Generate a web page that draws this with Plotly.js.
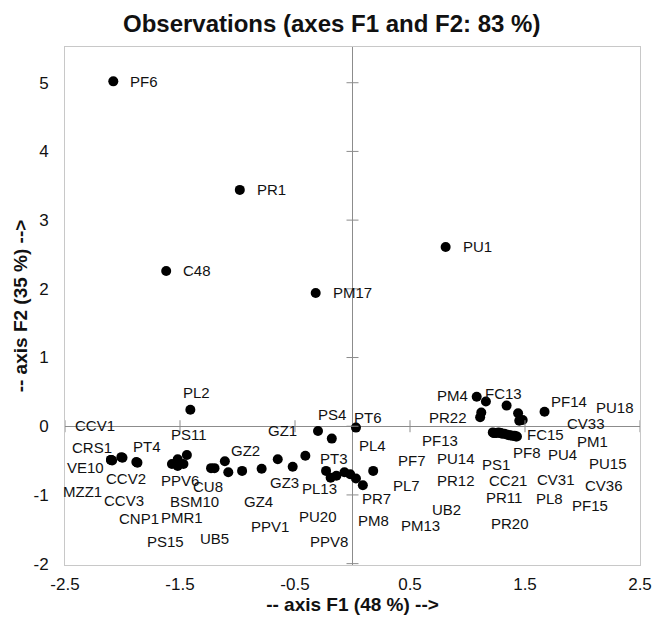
<!DOCTYPE html>
<html>
<head>
<meta charset="utf-8">
<script src="https://cdn.plot.ly/plotly-3.0.1.min.js"></script>
<style>html,body{margin:0;padding:0;background:#fff;}#chart{width:653px;height:627px;}</style>
</head>
<body>
<div id="chart"></div>
<script>
// ---- data ----
const names = ["PF6","PR1","C48","PM17","PU1","PL2",
  "CRS1","VE10","MZZ1","CCV1","CCV2","PT4","CCV3",
  "PS11","PPV6","CNP1","PMR1","PS15","CU8","BSM10",
  "GZ2","UB5","GZ4","PPV1","GZ3","PU20","GZ1","PS4","PT3","PT6","PL4",
  "PL13","PPV8","PR7","PM8","PL7","PF7","PM13",
  "PM4","FC13","PR22","PF13","PU18","PU15","CV33","PM1","PF14",
  "PU14","PR12","UB2","PS1","CC21","PR11","PR20","PF8","CV31","PL8","FC15","CV36","PF15","PU4"];
const f1 = [-2.08,-0.98,-1.62,-0.32,0.81,-1.41,
  -2.10,-2.10,-2.09,-2.01,-2.00,-1.88,-1.87,
  -1.44,-1.52,-1.57,-1.47,-1.52,-1.23,-1.20,
  -1.11,-1.08,-0.96,-0.79,-0.65,-0.52,-0.41,-0.30,-0.18,0.03,0.18,
  -0.23,-0.19,-0.14,-0.07,-0.02,0.03,0.09,
  1.08,1.16,1.12,1.11,1.34,1.44,1.45,1.48,1.67,
  1.22,1.23,1.25,1.27,1.29,1.30,1.32,1.34,1.36,1.37,1.41,1.39,1.42,1.43];
const f2 = [5.02,3.44,2.26,1.94,2.61,0.24,
  -0.49,-0.49,-0.50,-0.45,-0.46,-0.52,-0.53,
  -0.42,-0.48,-0.55,-0.55,-0.58,-0.61,-0.61,
  -0.51,-0.67,-0.65,-0.62,-0.48,-0.59,-0.43,-0.07,-0.18,-0.02,-0.65,
  -0.65,-0.75,-0.72,-0.67,-0.70,-0.76,-0.86,
  0.43,0.36,0.20,0.13,0.30,0.19,0.08,0.09,0.21,
  -0.09,-0.10,-0.10,-0.09,-0.10,-0.11,-0.11,-0.12,-0.13,-0.13,-0.14,-0.14,-0.15,-0.15];
const xTickVals = [-2.5,-1.5,-0.5,0.5,1.5,2.5];
const xTickText = ["-2.5","-1.5","-0.5","0.5","1.5","2.5"];
const yTickVals = [-2,-1,0,1,2,3,4,5];
const yTickText = ["-2","-1","0","1","2","3","4","5"];

// ---- label placement (pixel offsets from each point: dx, dy up, anchor) ----
const labelOffsets = {
  PF6:[15,0,"left"],PR1:[15,0,"left"],C48:[15,0,"left"],PM17:[15,0,"left"],PU1:[15,0,"left"],
  PL2:[6,17],CRS1:[-19,12],VE10:[-26,-8],MZZ1:[-30,-31],CCV1:[-26,32],CCV2:[3,-21],PT4:[11,15],CCV3:[-13,-38],
  PS11:[2,21],PPV6:[2,-21],CNP1:[-33,-54],PMR1:[-1,-53],PS15:[-12,-75],CU8:[-3,-18],BSM10:[-20,-33],
  GZ2:[21,11],UB5:[-14,-66],GZ4:[16,-31],PPV1:[8,-58],GZ3:[7,-23],PU20:[25,-50],GZ1:[-23,25],PS4:[14,17],PT3:[2,-20],PT6:[12,10],PL4:[-1,25],
  PL13:[-7,-18],PPV8:[-2,-64],PR7:[40,-23],PM8:[29,-48],PL7:[56,-11],PF7:[56,18],PM13:[58,-40],
  PM4:[-24,1],FC13:[18,8],PR22:[-33,-5],PF13:[-40,-23],PU18:[108,-2],PU15:[90,-50],CV33:[67,-3],PM1:[70,-21],PF14:[24,10],
  PU14:[-37,-26],PR12:[-38,-47],UB2:[-50,-76],PS1:[-3,-32],CC21:[7,-47],PR11:[2,-64],PR20:[6,-90],PF8:[20,-18],
  CV31:[47,-44],PL8:[39,-63],FC15:[31,1],CV36:[92,-50],PF15:[74,-69],PU4:[46,-18]
};

const FONT = '"Liberation Sans", Arial, Helvetica, sans-serif';

const annotations = names.map((n,i)=>{
  const o = labelOffsets[n] || [0,15];
  return {x:f1[i], y:f2[i], xref:'x', yref:'y', text:n, showarrow:false,
    xanchor:o[2]||'center', yanchor:'middle', xshift:o[0], yshift:o[1],
    font:{family:FONT, size:15, color:'#111'}};
});

const shapes = [];
xTickVals.forEach(v=>shapes.push({type:'line', xref:'x', yref:'y', x0:v, x1:v,
  ysizemode:'pixel', yanchor:0, y0:-6, y1:6, line:{color:'#8c8c8c', width:1}}));
yTickVals.forEach(v=>shapes.push({type:'line', xref:'x', yref:'y', y0:v, y1:v,
  xsizemode:'pixel', xanchor:0, x0:-6, x1:6, line:{color:'#8c8c8c', width:1}}));

const trace = {type:'scatter', mode:'markers', x:f1, y:f2, text:names,
  marker:{color:'#000', size:10}, hoverinfo:'text'};

const layout = {
  width:653, height:627,
  margin:{l:65, r:13, t:47, b:62},
  paper_bgcolor:'#fff', plot_bgcolor:'#fff',
  font:{family:FONT, color:'#111'},
  showlegend:false,
  title:{text:'<b>Observations (axes F1 and F2: 83 %)</b>', font:{family:FONT, size:24, color:'#111'},
    xref:'container', x:0.508, yref:'container', y:0.963, yanchor:'middle'},
  xaxis:{range:[-2.5,2.5], tickvals:xTickVals, ticktext:xTickText, ticks:'outside', ticklen:4,
    tickcolor:'rgba(0,0,0,0)', tickfont:{size:17, color:'#111'}, showgrid:false,
    showline:true, mirror:true, linecolor:'#c8c8c8', linewidth:1,
    zeroline:true, zerolinecolor:'#8c8c8c', zerolinewidth:1, automargin:false,
    title:{text:'<b>-- axis F1 (48 %) --></b>', font:{size:19, color:'#111'}, standoff:1}},
  yaxis:{range:[-2.02,5.52], tickvals:yTickVals, ticktext:yTickText, ticks:'outside', ticklen:12,
    tickcolor:'rgba(0,0,0,0)', tickfont:{size:17, color:'#111'}, showgrid:false,
    showline:true, mirror:true, linecolor:'#c8c8c8', linewidth:1,
    zeroline:true, zerolinecolor:'#8c8c8c', zerolinewidth:1, automargin:false,
    title:{text:'<b>-- axis F2 (35 %) --></b>', font:{size:19, color:'#111'}, standoff:0}},
  annotations:annotations,
  shapes:shapes
};

Plotly.newPlot('chart', [trace], layout, {displayModeBar:false, staticPlot:true});
</script>
</body>
</html>
